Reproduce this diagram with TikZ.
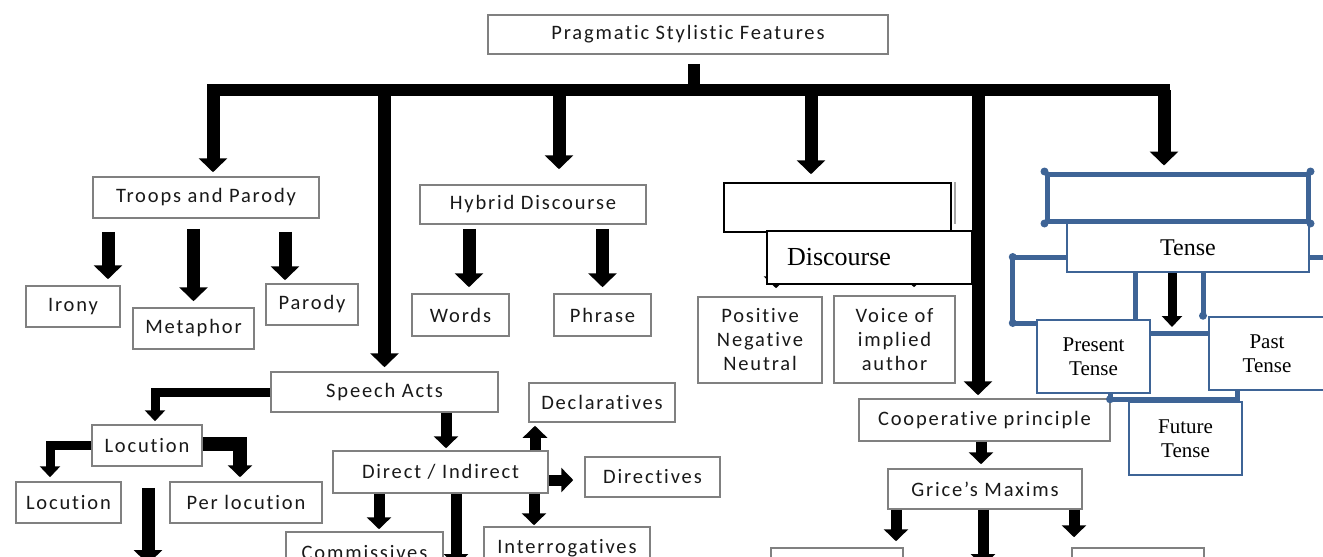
\documentclass[tikz,border=0pt]{standalone}
\usepackage{fontspec}
\usetikzlibrary{arrows.meta}
\newfontfamily\calfont[LetterSpace=9,Ligatures=NoCommon]{Carlito}
\newfontfamily\timesfont{Liberation Serif}
\definecolor{tblue}{RGB}{62,100,150}
\tikzset{
  box_g/.style = {draw=black!50, line width=1.5pt, fill=white, align=center,
    inner sep=0pt, text=black!90, font=\calfont\fontsize{20.5}{24}\selectfont},
  box_t/.style = {draw=black, line width=1.3pt, fill=white, inner sep=0pt,
    font=\timesfont\fontsize{26}{30}\selectfont},
  box_b/.style = {draw=tblue, line width=2.5pt, fill=white, align=center,
    inner sep=0pt, font=\timesfont\fontsize{21}{24}\selectfont},
  arr_fat/.style = {line width=13pt, -{Triangle[width=28pt,length=14pt]}},
  arr_mid/.style = {line width=11pt, -{Triangle[width=24pt,length=12pt]}},
  arr_thin/.style = {line width=9pt, -{Triangle[width=20pt,length=11pt]}},
  line_fat/.style = {line width=12pt},
  line_b/.style = {draw=tblue, line width=5pt}}

\begin{document}
\begin{tikzpicture}[x=1pt, y=-1pt]
\useasboundingbox (0,0) rectangle (1323,557);
\clip (0,0) rectangle (1323,557);
\fill[white] (0,0) rectangle (1323,557);

\node[box_g, minimum width=400pt, minimum height=39pt] (pragma) at (688,34.5) {Pragmatic Stylistic Features};
\coordinate (hub) at (694,90);

% first row
\node[box_g, minimum width=226pt, minimum height=41pt] (troops) at (206,197.5) {Troops and Parody};
\node[box_g, minimum width=226pt, minimum height=39pt] (hybrid) at (533,204.5) {Hybrid Discourse};
\node[box_g, draw=black, minimum width=227pt, minimum height=49pt] (disc_top) at (837.5,207.5) {};
\node[box_b, line width=5pt, minimum width=261pt, minimum height=47pt] (tense_top) at (1177.5,197.5) {};

\node[box_g, minimum width=94pt, minimum height=41pt] (irony) at (73,306.5) {Irony};
\node[box_g, minimum width=121pt, minimum height=41pt] (metaphor) at (193.5,328.5) {Metaphor};
\node[box_g, minimum width=92pt, minimum height=41pt] (parody) at (312,304.5) {Parody};
\node[box_g, minimum width=97pt, minimum height=42pt] (words) at (460.5,315) {Words};
\node[box_g, minimum width=97pt, minimum height=42pt] (phrase) at (602.5,315) {Phrase};
\node[box_g, minimum width=124pt, minimum height=86pt] (pnn) at (760,340) {Positive\\Negative\\Neutral};
\node[box_g, minimum width=121pt, minimum height=87pt] (voice) at (894.5,339.5) {Voice of\\implied\\author};

% speech acts
\node[box_g, minimum width=227pt, minimum height=40pt] (speech) at (384.5,392) {Speech Acts};
\node[box_g, minimum width=146pt, minimum height=39pt] (declar) at (602,402.5) {Declaratives};
\node[box_g, minimum width=215pt, minimum height=42pt] (direct) at (440.5,472) {Direct / Indirect};
\node[box_g, minimum width=135pt, minimum height=40pt] (directives) at (652.5,477) {Directives};
\node[box_g, minimum width=157pt, minimum height=42pt] (commiss) at (364.5,553) {Commissives};
\node[box_g, minimum width=166pt, minimum height=42pt] (interrog) at (567,548) {Interrogatives};
\node[box_g, minimum width=110pt, minimum height=41pt] (loc_main) at (147,445.5) {Locution};
\node[box_g, minimum width=105pt, minimum height=41pt] (loc_left) at (68.5,502.5) {Locution};
\node[box_g, minimum width=152pt, minimum height=41pt] (perloc) at (246,502.5) {Per locution};

% cooperative principle
\node[box_g, minimum width=251pt, minimum height=42pt] (coop) at (984.5,420) {Cooperative principle};
\node[box_g, minimum width=194pt, minimum height=40pt] (grice) at (985,489) {Grice’s Maxims};
\node[box_g, minimum width=132pt, minimum height=42pt] (max_l) at (837,569) {};
\node[box_g, minimum width=132pt, minimum height=42pt] (max_r) at (1138,569) {};

% main bar
\draw[line_fat] ([yshift=-9pt]pragma.south -| hub) -- (hub);
\draw[line_fat, line cap=rect] ([xshift=7pt]troops.north |- hub) -- ([xshift=-13.5pt]tense_top.north |- hub);
\draw[arr_fat] ([xshift=7pt]troops.north |- hub) -- ([xshift=7pt,yshift=4pt]troops.north);
\draw[arr_fat] (speech.north |- hub) -- ([yshift=4pt]speech.north);
\draw[arr_fat] ([xshift=26pt]hybrid.north |- hub) -- ([xshift=26pt,yshift=15pt]hybrid.north);
\draw[arr_fat] ([xshift=-26.5pt]disc_top.north |- hub) -- ([xshift=-26.5pt,yshift=8pt]disc_top.north);
\draw[arr_fat] ([xshift=-6.5pt]coop.north |- hub) -- ([xshift=-6.5pt,yshift=3pt]coop.north);
\draw[arr_fat] ([xshift=-13.5pt]tense_top.north |- hub) -- ([xshift=-13.5pt,yshift=6pt]tense_top.north);

\draw[arr_fat] ([xshift=35pt,yshift=-13pt]irony.north |- troops.south) -- ([xshift=35pt,yshift=6pt]irony.north);
\draw[arr_fat] ([yshift=-10pt]metaphor.north |- troops.south) -- ([yshift=6pt]metaphor.north);
\draw[arr_fat] ([xshift=-27pt,yshift=-13pt]parody.north |- troops.south) -- ([xshift=-27pt,yshift=3pt]parody.north);
\draw[arr_fat] ([xshift=8.5pt,yshift=-4pt]words.north |- hybrid.south) -- ([xshift=8.5pt,yshift=6pt]words.north);
\draw[arr_fat] ([yshift=-4pt]phrase.north |- hybrid.south) -- ([yshift=6pt]phrase.north);

\draw[arr_mid] ([xshift=16pt]pnn.north |- disc_top.south) -- ([xshift=16pt,yshift=8pt]pnn.north);
\draw[arr_mid] ([xshift=19.5pt]voice.north |- disc_top.south) -- ([xshift=19.5pt,yshift=8pt]voice.north);
\draw[black!35, line width=2pt] ([xshift=3pt]disc_top.north east) -- ([xshift=3pt,yshift=9pt]disc_top.south east);
\node[box_t, minimum width=205pt, minimum height=53pt, text width=165pt, inner xsep=20pt, align=left] (discourse) at (869.5,257.5) {Discourse};

% speech acts arrows
\draw[arr_thin] (speech.west) -| ([xshift=8pt,yshift=3pt]loc_main.north);
\draw[arr_thin] (loc_main.west) -| ([xshift=-18.5pt,yshift=4pt]loc_left.north);
\draw[arr_mid, line width=14pt] ([yshift=1.5pt]loc_main.east) -| ([xshift=-6pt,yshift=4pt]perloc.north);
\coordinate (loc_end) at (148,564);
\draw[arr_fat] ([yshift=-21pt]loc_main.south -| loc_end) -- (loc_end);

\draw[arr_mid] ([xshift=5.5pt]direct.north |- speech.south) -- ([xshift=5.5pt,yshift=2pt]direct.north);
\draw[arr_mid] ([xshift=-67pt]declar.south |- direct.north) -- ([xshift=-67pt,yshift=-3pt]declar.south);
\draw[arr_mid, shorten >=11pt] ([yshift=-8pt]direct.east) -- ([yshift=-8pt]direct.east -| directives.west);
\draw[arr_mid] ([xshift=14.5pt]commiss.north |- direct.south) -- ([xshift=14.5pt,yshift=2pt]commiss.north);
\coordinate (dir_end) at (456,566);
\draw[arr_mid] (direct.south -| dir_end) -- (dir_end);
\draw[arr_mid] ([xshift=-33pt]interrog.north |- direct.south) -- ([xshift=-33pt,yshift=1pt]interrog.north);

% cooperative arrows
\draw[arr_mid] ([xshift=-4pt]grice.north |- coop.south) -- ([xshift=-4pt,yshift=4pt]grice.north);
\draw[arr_mid] ([xshift=59pt]max_l.north |- grice.south) -- ([xshift=59pt,yshift=6pt]max_l.north);
\coordinate (gr_end) at (983,566);
\draw[arr_mid] (grice.south -| gr_end) -- (gr_end);
\draw[arr_mid] ([xshift=-64pt]max_r.north |- grice.south) -- ([xshift=-64pt,yshift=10pt]max_r.north);

% tense
\node[box_b, minimum width=242pt, minimum height=49pt, font=\timesfont\fontsize{24}{28}\selectfont] (tense) at (1188,247.5) {Tense};
\node[box_b, minimum width=113pt, minimum height=73pt] (present) at (1093.5,356.5) {Present\\Tense};
\node[box_b, minimum width=116pt, minimum height=73pt] (past) at (1267,353.5) {Past\\Tense};
\node[box_b, minimum width=113pt, minimum height=73pt] (future) at (1185.5,438.5) {Future\\Tense};

\foreach \c in {north west, north east, south west, south east}
  \fill[tblue] (tense_top.\c) circle (4pt);
\draw[line_b] ([yshift=-9.5pt]tense.west) -- ++(-53,0) |- ([yshift=33.5pt]present.west);
\fill[tblue] ([xshift=-53pt,yshift=-9.5pt]tense.west) circle (4pt);
\fill[tblue] ([xshift=-23pt,yshift=33.5pt]present.west) circle (4pt);
\draw[line_b] ([yshift=-9.5pt]tense.east) -- ++(30,0);
\draw[line_b] ([xshift=41.5pt]present.north |- tense.south) -- ([xshift=41.5pt]present.north);
\draw[line_b] ([xshift=-64pt]past.north |- tense.south) -- ([xshift=-64pt]past.north);
\fill[tblue] ([xshift=-64pt]past.north) circle (4pt);
\draw[line_b] ([yshift=23.5pt]present.east) -- ([yshift=23.5pt]present.east -| past.west);
\draw[line_b] ([xshift=16.5pt]present.south) -- ++(0,5) -| ([xshift=-30pt]past.south);
\fill[tblue] ([xshift=16.5pt,yshift=-5pt]present.south) circle (4pt);
\coordinate (mid_tip) at (1172,327);
\draw[arr_thin] (tense.south -| mid_tip) -- (mid_tip);
\end{tikzpicture}
\end{document}
